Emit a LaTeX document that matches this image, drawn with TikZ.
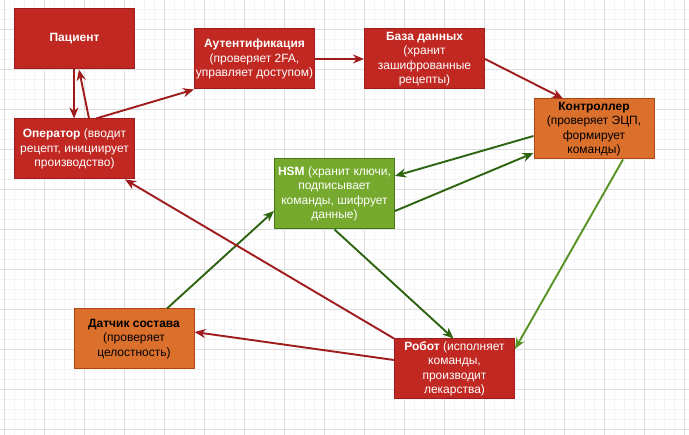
\documentclass[tikz,border=0pt]{standalone}
\usepackage{fontspec}
\setmainfont{Liberation Sans}
\usetikzlibrary{arrows.meta}
\definecolor{cred}{RGB}{193,40,34}
\definecolor{credd}{RGB}{160,28,28}
\definecolor{cor}{RGB}{218,112,44}
\definecolor{cord}{RGB}{176,70,20}
\definecolor{cgr}{RGB}{118,170,46}
\definecolor{cgrd}{RGB}{70,118,20}
\definecolor{ared}{RGB}{160,28,28}
\definecolor{agr}{RGB}{45,100,16}
\definecolor{agrl}{RGB}{86,146,36}
\definecolor{gmin}{RGB}{244,244,244}
\definecolor{gmaj}{RGB}{222,222,222}
\tikzset{
  box/.style={rectangle, minimum width=120pt, minimum height=60pt, inner sep=0pt,
    align=center, font=\fontsize{12}{14.5}\selectfont, line width=1pt},
  redbox/.style={box, fill=cred, draw=credd, text=white},
  orbox/.style={box, fill=cor, draw=cord, text=black},
  grbox/.style={box, fill=cgr, draw=cgrd, text=white},
  conn/.style={line width=1.9pt, -{Stealth[length=11pt,width=9pt,inset=3.5pt]}},
  rconn/.style={conn, draw=ared, fill=ared},
  gconn/.style={conn, draw=agr, fill=agr},
  lgconn/.style={conn, draw=agrl, fill=agrl}
}
\begin{document}
\begin{tikzpicture}[x=1pt,y=-1pt]
\useasboundingbox (0,0) rectangle (689,435);
\fill[white] (0,0) rectangle (689,435);
\foreach \i in {0,...,69} {\draw[gmin, line width=0.8pt] (4+10*\i,0) -- (4+10*\i,435);}
\foreach \i in {0,...,44} {\draw[gmin, line width=0.8pt] (0,-1+10*\i) -- (689,-1+10*\i);}
\foreach \i in {0,...,17} {\draw[gmaj, line width=0.8pt] (4+40*\i,0) -- (4+40*\i,435);}
\foreach \i in {0,...,11} {\draw[gmaj, line width=0.8pt] (0,29+40*\i) -- (689,29+40*\i);}

\node[redbox] (pat) at (74.5,39) {\textbf{Пациент}};
\node[redbox] (auth) at (254.5,59) {\textbf{Аутентификация}\\(проверяет 2FA,\\управляет доступом)};
\node[redbox] (op) at (74.5,149) {\textbf{Оператор} (вводит\\рецепт, инициирует\\производство)};
\node[redbox] (db) at (424.5,59) {\textbf{База данных}\\(хранит\\зашифрованные\\рецепты)};
\node[orbox] (ctl) at (594,129) {\textbf{Контроллер}\\(проверяет ЭЦП,\\формирует\\команды)};
\node[grbox, minimum height=70pt] (hsm) at (334.5,194) {\textbf{HSM} (хранит ключи,\\подписывает\\команды, шифрует\\данные)};
\node[orbox] (sens) at (134,339) {\textbf{Датчик состава}\\(проверяет\\целостность)};
\node[redbox] (rob) at (454.5,369) {\textbf{Робот} (исполняет\\команды,\\производит\\лекарства)};

\draw[rconn] ([xshift=-0.5pt]pat.south) -- ([xshift=-0.5pt]op.north);
\draw[rconn] ([xshift=14.5pt]op.north) -- ([xshift=4.5pt]pat.south);
\draw[rconn] ([xshift=21.5pt]op.north) -- (auth.south west);
\draw[rconn] (auth.east) -- (db.west);
\draw[rconn] (db.east) -- ([xshift=-31pt]ctl.north);
\draw[gconn] ([yshift=-7pt]ctl.west) -- ([yshift=18pt]hsm.east);
\draw[gconn] ([yshift=-17pt]hsm.east) -- ([yshift=-24pt]ctl.west);
\draw[lgconn] ([xshift=29pt]ctl.south) -- ([yshift=20pt]rob.east);
\draw[gconn] (hsm.south) -- ([xshift=-1pt]rob.north);
\draw[gconn] ([xshift=33pt]sens.north) -- ([yshift=-17pt]hsm.west);
\draw[rconn] ([yshift=9pt]rob.west) -- ([yshift=7pt]sens.east);
\draw[rconn] (rob.north west) -- ([xshift=-10pt]op.south east);
\end{tikzpicture}
\end{document}
